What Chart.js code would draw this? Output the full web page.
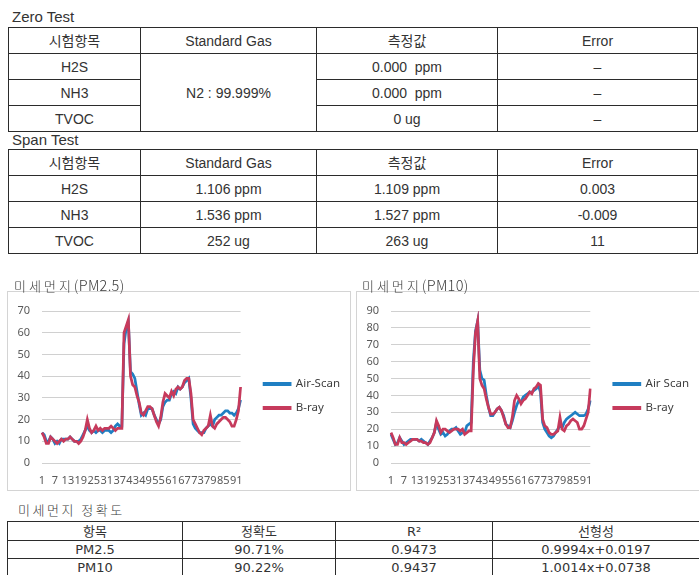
<!DOCTYPE html>
<html><head><meta charset="utf-8">
<script src="https://cdn.jsdelivr.net/npm/chart.js@4"></script>
<style>
html,body{margin:0;padding:0;}
body{width:699px;height:575px;background:#fff;position:relative;overflow:hidden;font-family:"Liberation Sans","Noto Sans CJK KR",sans-serif;color:#2e2e2e;}
.lbl{position:absolute;font-size:15px;line-height:16px;color:#333;white-space:nowrap;}
.klbl{position:absolute;z-index:5;font-size:13px;line-height:16px;color:#3a3a3a;white-space:nowrap;font-family:"Noto Sans CJK KR",sans-serif;font-weight:300;}
.klbl .h{letter-spacing:3px;}
.klbl .l{font-size:14.5px;letter-spacing:0.3px;}
table{position:absolute;border-collapse:collapse;table-layout:fixed;}
td{border:1.5px solid #2b2b2b;text-align:center;font-size:14px;padding:0;line-height:14px;white-space:pre;color:#333;}
.t3 td{font-family:"DejaVu Sans","Noto Sans CJK KR",sans-serif;font-size:13px;line-height:13px;}
.box{position:absolute;border:1px solid #d4d4d4;background:#fff;}
</style></head>
<body>
<div class="lbl" style="left:12px;top:9px;">Zero Test</div>
<table style="left:8px;top:27px;width:689px;">
<colgroup><col style="width:132px"><col style="width:176px"><col style="width:181px"><col style="width:200px"></colgroup>
<tr style="height:26px"><td>시험항목</td><td>Standard Gas</td><td>측정값</td><td>Error</td></tr>
<tr style="height:26px"><td>H2S</td><td rowspan="3">N2 : 99.999%</td><td>0.000  ppm</td><td>–</td></tr>
<tr style="height:26px"><td>NH3</td><td>0.000  ppm</td><td>–</td></tr>
<tr style="height:26px"><td>TVOC</td><td>0 ug</td><td>–</td></tr>
</table>

<div class="lbl" style="left:12px;top:132px;">Span Test</div>
<table style="left:8px;top:149px;width:689px;">
<colgroup><col style="width:132px"><col style="width:176px"><col style="width:181px"><col style="width:200px"></colgroup>
<tr style="height:26px"><td>시험항목</td><td>Standard Gas</td><td>측정값</td><td>Error</td></tr>
<tr style="height:26px"><td>H2S</td><td>1.106 ppm</td><td>1.109 ppm</td><td>0.003</td></tr>
<tr style="height:26px"><td>NH3</td><td>1.536 ppm</td><td>1.527 ppm</td><td>-0.009</td></tr>
<tr style="height:26px"><td>TVOC</td><td>252 ug</td><td>263 ug</td><td>11</td></tr>
</table>

<div class="box" style="left:7px;top:291px;width:342px;height:198px;"><canvas id="c1" width="342" height="198"></canvas></div>
<div class="box" style="left:356px;top:291px;width:342px;height:198px;"><canvas id="c2" width="342" height="198"></canvas></div>
<div class="klbl" style="left:14px;top:277px;"><span class="h">미세먼지</span><span class="l">(PM2.5)</span></div>
<div class="klbl" style="left:362px;top:277px;"><span class="h">미세먼지</span><span class="l">(PM10)</span></div>

<div class="klbl" style="left:18px;top:502px;"><span class="h" style="letter-spacing:2.5px">미세먼지 정확도</span></div>
<table class="t3" style="left:7px;top:521px;width:692px;">
<colgroup><col style="width:175px"><col style="width:153px"><col style="width:157px"><col style="width:207px"></colgroup>
<tr style="height:19px"><td>항목</td><td>정확도</td><td>R²</td><td>선형성</td></tr>
<tr style="height:18px"><td>PM2.5</td><td>90.71%</td><td>0.9473</td><td>0.9994x+0.0197</td></tr>
<tr style="height:18px"><td>PM10</td><td>90.22%</td><td>0.9437</td><td>1.0014x+0.0738</td></tr>
</table>

<script>
const xLabels = [1,2,3,4,5,6,7,8,9,10,11,12,13,14,15,16,17,18,19,20,21,22,23,24,25,26,27,28,29,30,31,32,33,34,35,36,37,38,39,40,41,42,43,44,45,46,47,48,49,50,51,52,53,54,55,56,57,58,59,60,61,62,63,64,65,66,67,68,69,70,71,72,73,74,75,76,77,78,79,80,81,82,83,84,85,86,87,88,89,90,91,92,93];

const pm25Air = [14,13,10,10,12,11,9,10,9,11,11,11,11,12,11,10,10,10,11,13,15,17,15,14,15,14,15,15,14,15,15,15,14,15,17,18,17,17,55,62,65,42,41,39,33,27,22,23,22,25,25,25,22,20,18,20,26,28,29,29,32,33,32,35,34,35,37,38,39,30,18,16,15,14,14,14,16,17,18,17,20,21,22,22,23,24,24,23,23,22,23,25,29];
const pm25Bray = [14,12,9,9,12,11,10,9,10,11,10,11,11,12,11,10,10,9,10,12,15,20,16,14,15,17,15,16,15,16,16,16,17,16,15,16,16,16,60,63,66,40,36,35,31,28,23,22,24,26,26,25,22,19,17,21,28,32,31,30,33,31,34,35,34,35,38,39,39,32,20,18,16,14,13,15,16,17,22,17,16,18,19,20,21,21,20,19,17,17,20,24,35];

const pm10Air = [17,14,11,12,15,13,11,12,13,14,14,14,14,13,14,13,12,11,13,15,18,24,20,17,18,16,17,19,20,20,21,19,17,18,18,22,23,24,60,78,84,55,50,49,40,33,28,28,30,32,33,31,28,23,22,21,25,30,34,37,36,39,40,41,42,42,43,44,46,42,24,20,18,16,15,16,18,20,22,21,24,26,27,28,29,30,29,28,28,28,29,32,37];
const pm10Bray = [18,15,11,11,15,12,12,11,12,13,14,14,14,13,13,12,12,11,12,15,18,25,22,18,20,20,19,18,19,20,20,20,19,20,17,18,19,19,55,77,84,50,46,44,38,33,29,29,30,32,33,31,27,23,21,21,27,37,40,38,35,37,38,40,42,41,44,45,47,46,26,22,21,18,17,17,18,19,27,20,19,22,23,25,26,25,24,20,20,22,26,30,44];

const BLUE = '#1f7fc3';
const RED = '#c63a5c';
const tickFont = {family:'"Noto Sans", sans-serif', size:11};

function makeChart(id, air, bray, airName, yMax){
  new Chart(document.getElementById(id), {
    type:'line',
    data:{labels:xLabels, datasets:[
      {label:airName, data:air, borderColor:BLUE, backgroundColor:BLUE, borderWidth:2.75, pointRadius:0, tension:0, order:2},
      {label:'B-ray', data:bray, borderColor:RED, backgroundColor:RED, borderWidth:2.75, pointRadius:0, tension:0, order:1}
    ]},
    options:{
      responsive:false, animation:false, events:[],
      layout:{padding:{top:19,left:0,right:0,bottom:0}},
      plugins:{
        legend:{position:'right', align:'start', maxWidth:200,
          title:{display:true, text:'', font:{size:10, lineHeight:1.2}, padding:{top:21.4, bottom:21.4}},
          labels:{boxWidth:26, boxHeight:1.25, padding:12.5, color:'#404040',
                  font:{family:'"Noto Sans", sans-serif', size:11.5},
                  sort:(a,b)=>a.datasetIndex-b.datasetIndex}},
        tooltip:{enabled:false}
      },
      scales:{
        x:{grid:{display:false}, border:{display:false},
           ticks:{autoSkip:false, maxRotation:0, minRotation:0, padding:3, color:'#595959', font:tickFont,
                  callback:(v,i)=> (i%6===0 ? String(xLabels[i]) : '')},
           afterFit(s){s.height=27;}},
        y:{min:0, max:yMax, ticks:{stepSize:10, padding:12, color:'#595959', font:tickFont},
           grid:{color:'#d0d0d0', drawTicks:false}, border:{display:false},
           afterFit(s){s.width=34;}},
        gap:{type:'linear', position:'right', display:true, grid:{display:false}, border:{display:false},
             ticks:{display:false}, afterFit(s){s.width=11;}}
      }
    }
  });
}
makeChart('c1', pm25Air, pm25Bray, 'Air-Scan', 70);
makeChart('c2', pm10Air, pm10Bray, 'Air Scan', 90);
</script>
</body></html>
